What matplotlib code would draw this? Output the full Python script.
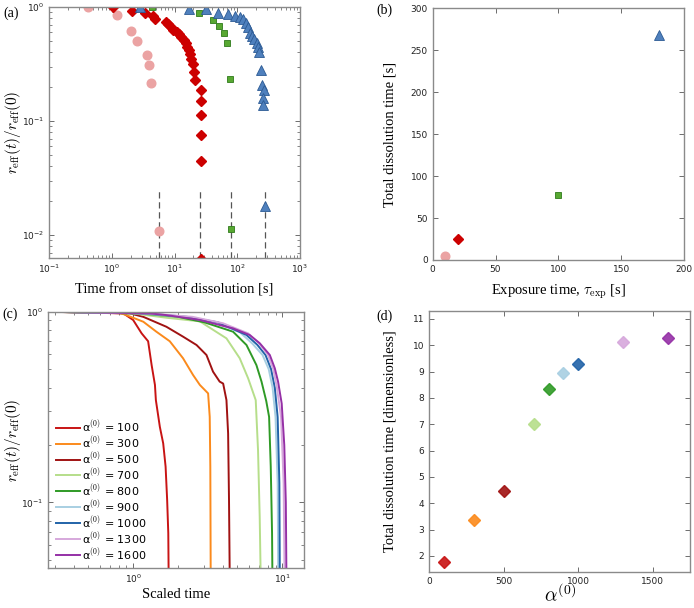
import numpy as np
import matplotlib
matplotlib.use("Agg")
import matplotlib.pyplot as plt
from matplotlib.ticker import LogLocator, NullFormatter, MultipleLocator

plt.rcParams['mathtext.fontset'] = 'cm'
plt.rcParams['font.family'] = ['DejaVu Sans']

SERIF = 'Liberation Serif'

# ---- panel (a): r_eff(t)/r_eff(0) vs time, four exposure times ----
circ_t = [0.42, 1.22, 2.0, 2.53, 3.57, 3.9, 4.14, 5.6]
circ_r = [1.0, 0.845, 0.62, 0.50, 0.38, 0.31, 0.215, 0.0108]

diam_t = [1.05, 2.06, 3.37, 4.6, 4.9, 7.3, 7.9, 8.7, 9.5, 11.0, 11.9, 12.9, 14.3,
          15.2, 15.9, 16.9, 17.6, 18.2, 19.4, 20.4, 21.4, 26.0, 26.0, 26.0, 26.0,
          26.0, 26.0]
diam_r = [1.0, 0.92, 0.885, 0.83, 0.79, 0.74, 0.705, 0.668, 0.633, 0.60, 0.58,
          0.545, 0.51, 0.48, 0.446, 0.417, 0.39, 0.352, 0.318, 0.269, 0.227, 0.186,
          0.149, 0.112, 0.076, 0.045, 0.0062]

sq_t = [4.4, 24.8, 41.4, 52.2, 62.1, 69.2, 76.4, 79.3]
sq_r = [1.0, 0.886, 0.774, 0.68, 0.59, 0.487, 0.235, 0.0114]

tri_t = [2.8, 16.9, 31.3, 49.8, 70.1, 94, 113, 125, 137, 150, 159, 173, 187, 204,
         216, 224, 239, 251, 267, 260, 254, 280]
tri_r = [1.0, 0.96, 0.96, 0.886, 0.87, 0.83, 0.82, 0.78, 0.72, 0.668, 0.596, 0.557,
         0.52, 0.487, 0.446, 0.40, 0.278, 0.208, 0.186, 0.16, 0.137, 0.018]

end_times = [5.6, 25.4, 81, 280]

# ---- panel (b) ----
exposure = [10, 20, 100, 180]
total_time = [5, 25, 78, 268]

# ---- panel (c): scaled curves ----
alpha_vals = [100, 300, 500, 700, 800, 900, 1000, 1300, 1600]
alpha_colors = ['#c81414', '#fb8a1c', '#a01212', '#b6de8a', '#2f9a26',
                '#a8cfe2', '#2163a8', '#d6a8dc', '#9530a6']
curve_t = [
    [0.27, 0.86, 1.0, 1.14, 1.26, 1.33, 1.40, 1.42, 1.51, 1.59, 1.65, 1.69, 1.72, 1.73],
    [0.27, 0.80, 0.90, 1.17, 1.43, 1.76, 2.16, 2.52, 2.8, 3.18, 3.26, 3.29, 3.31],
    [0.27, 0.95, 1.17, 1.67, 2.16, 2.66, 3.1, 3.43, 3.8, 4.01, 4.22, 4.33, 4.39, 4.44],
    [0.27, 1.0, 1.67, 2.8, 4.22, 5.18, 5.9, 6.63, 6.87, 7.05, 7.16],
    [0.27, 1.1, 2.0, 3.0, 4.67, 5.75, 6.7, 7.25, 7.8, 8.15, 8.36, 8.53, 8.58],
    [0.27, 1.15, 2.2, 3.5, 5.2, 6.3, 7.37, 8.1, 8.6, 9.0, 9.3, 9.38],
    [0.27, 1.2, 2.3, 3.7, 5.75, 6.8, 7.71, 8.4, 8.9, 9.3, 9.55, 9.62],
    [0.27, 1.25, 2.5, 4.0, 5.9, 7.0, 8.0, 8.7, 9.2, 9.8, 10.2, 10.35],
    [0.27, 1.3, 1.67, 2.8, 4.67, 6.04, 7.06, 8.24, 8.9, 9.36, 9.9, 10.3, 10.55, 10.65],
]
curve_r = [
    [1.0, 0.98, 0.905, 0.77, 0.70, 0.525, 0.413, 0.344, 0.249, 0.204, 0.154, 0.103, 0.069, 0.04],
    [1.0, 0.99, 0.96, 0.886, 0.786, 0.70, 0.57, 0.466, 0.413, 0.373, 0.281, 0.154, 0.04],
    [1.0, 0.98, 0.94, 0.834, 0.74, 0.669, 0.593, 0.485, 0.43, 0.42, 0.344, 0.23, 0.103, 0.04],
    [1.0, 0.98, 0.93, 0.89, 0.725, 0.57, 0.447, 0.344, 0.188, 0.084, 0.04],
    [1.0, 0.98, 0.94, 0.88, 0.786, 0.669, 0.525, 0.43, 0.34, 0.281, 0.154, 0.069, 0.04],
    [1.0, 0.98, 0.94, 0.88, 0.78, 0.68, 0.593, 0.50, 0.40, 0.28, 0.126, 0.04],
    [1.0, 0.98, 0.94, 0.88, 0.755, 0.67, 0.593, 0.50, 0.40, 0.28, 0.126, 0.04],
    [1.0, 0.98, 0.94, 0.87, 0.77, 0.68, 0.593, 0.50, 0.40, 0.28, 0.126, 0.04],
    [1.0, 0.98, 0.96, 0.905, 0.818, 0.755, 0.683, 0.593, 0.505, 0.43, 0.33, 0.2, 0.1, 0.04],
]

# ---- panel (d) ----
dim_time = [1.78, 3.35, 4.45, 7.02, 8.33, 8.95, 9.3, 10.12, 10.27]

fig = plt.figure(figsize=(6.94, 6.08), dpi=100)
ax_a = fig.add_axes([0.071, 0.5757, 0.361, 0.413])
ax_b = fig.add_axes([0.6235, 0.5724, 0.362, 0.414])
ax_c = fig.add_axes([0.0696, 0.0658, 0.368, 0.4215])
ax_d = fig.add_axes([0.6186, 0.0597, 0.3757, 0.4288])

c_circ, c_diam, c_sq, c_tri = '#eba3a3', '#cc0000', '#58a832', '#4f80bd'
e_sq, e_tri = '#2e7a1a', '#2c5a94'


def style(ax):
    for s in ax.spines.values():
        s.set_color('#8a8a8a')
        s.set_linewidth(1.0)
    ax.tick_params(which='both', direction='in', top=True, right=True,
                   colors='#555555', labelcolor='#222222', labelsize=6.5)
    ax.tick_params(which='major', length=3.5, width=0.6)
    ax.tick_params(which='minor', length=2, width=0.5)


def log_minor(ax):
    for axis in (ax.xaxis, ax.yaxis):
        axis.set_minor_locator(LogLocator(base=10, subs=np.arange(2, 10), numticks=20))
        axis.set_minor_formatter(NullFormatter())


# (a)
ax_a.set_xscale('log')
ax_a.set_yscale('log')
ax_a.vlines(end_times, 0.0063, 0.025, colors='#555555', linestyles=(0, (5, 3)), lw=0.9)
ax_a.plot(circ_t, circ_r, 'o', ms=6.2, color=c_circ, mec=c_circ)
ax_a.plot(diam_t, diam_r, 'D', ms=5.0, color=c_diam, mec=c_diam)
ax_a.plot(sq_t, sq_r, 's', ms=4.5, color=c_sq, mec=e_sq, mew=0.6)
ax_a.plot(tri_t, tri_r, '^', ms=7, color=c_tri, mec=e_tri, mew=0.6)
ax_a.set_xlim(0.1, 1000)
ax_a.set_ylim(0.0063, 1.0)
style(ax_a)
log_minor(ax_a)
ax_a.set_xlabel('Time from onset of dissolution [s]', family=SERIF, fontsize=10.5, labelpad=6)
ax_a.set_ylabel(r'$r_{\rm eff}(t)/r_{\rm eff}(0)$', fontsize=11, labelpad=-1)

# (b)
ax_b.plot(exposure[0], total_time[0], 'o', ms=6.2, color=c_circ, mec=c_circ)
ax_b.plot(exposure[1], total_time[1], 'D', ms=5.2, color=c_diam, mec=c_diam)
ax_b.plot(exposure[2], total_time[2], 's', ms=4.5, color=c_sq, mec=e_sq, mew=0.6)
ax_b.plot(exposure[3], total_time[3], '^', ms=7, color=c_tri, mec=e_tri, mew=0.6)
ax_b.set_xlim(0, 200)
ax_b.set_ylim(0, 300)
ax_b.xaxis.set_major_locator(MultipleLocator(50))
ax_b.yaxis.set_major_locator(MultipleLocator(50))
style(ax_b)
ax_b.set_xlabel(r'Exposure time, $\tau_{\rm exp}$ [s]', family=SERIF, fontsize=10.5, labelpad=6)
ax_b.set_ylabel('Total dissolution time [s]', family=SERIF, fontsize=10.5, labelpad=10)

# (c)
ax_c.set_xscale('log')
ax_c.set_yscale('log')
for a, col, tt, rr in zip(alpha_vals, alpha_colors, curve_t, curve_r):
    ax_c.plot(tt, rr, '-', color=col, lw=1.4, label=r'α$^{(0)}$ = %d' % a)
ax_c.set_xlim(0.27, 13.9)
ax_c.set_ylim(0.0453, 1.0)
style(ax_c)
log_minor(ax_c)
ax_c.legend(loc='lower left', bbox_to_anchor=(-0.01, -0.015), frameon=False, fontsize=8,
            handlelength=2.2, labelspacing=0.0, handletextpad=0.15)
ax_c.set_xlabel('Scaled time', family=SERIF, fontsize=10.5, labelpad=2)
ax_c.set_ylabel(r'$r_{\rm eff}(t)/r_{\rm eff}(0)$', fontsize=11, labelpad=-1)

# (d)
for a, col, d in zip(alpha_vals, alpha_colors, dim_time):
    ax_d.plot(a, d, 'D', ms=6.6, color=col, mec=col, alpha=0.9)
ax_d.set_xlim(0, 1750)
ax_d.set_ylim(1.4, 11.3)
ax_d.xaxis.set_major_locator(MultipleLocator(500))
ax_d.yaxis.set_major_locator(MultipleLocator(1))
style(ax_d)
ax_d.set_xlabel(r'$\alpha^{(0)}$', fontsize=14, labelpad=-1)
ax_d.set_ylabel('Total dissolution time [dimensionless]', family=SERIF, fontsize=10.5, labelpad=12)

for lab, x, y in [('(a)', 0.005, 0.972), ('(b)', 0.542, 0.977),
                  ('(c)', 0.003, 0.477), ('(d)', 0.542, 0.474)]:
    fig.text(x, y, lab, family=SERIF, fontsize=10)

fig.savefig('out.png', dpi=100)
